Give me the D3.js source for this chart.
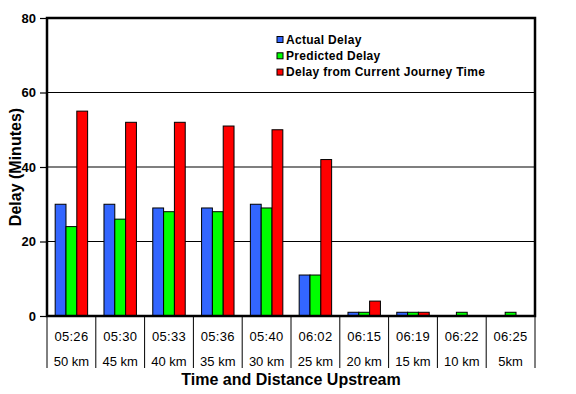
<!DOCTYPE html>
<html>
<head>
<meta charset="utf-8">
<script src="https://cdn.jsdelivr.net/npm/d3@7"></script>
<style>
  body { margin: 0; background: #fff; }
  text { font-family: "Liberation Sans", Arial, sans-serif; fill: #000; }
</style>
</head>
<body>
<script>
// chart data
const times = ["05:26", "05:30", "05:33", "05:36", "05:40", "06:02", "06:15", "06:19", "06:22", "06:25"];
const distances = ["50 km", "45 km", "40 km", "35 km", "30 km", "25 km", "20 km", "15 km", "10 km", "5km"];
const actualDelay = [30, 30, 29, 29, 30, 11, 1, 1, 0, 0];
const predictedDelay = [24, 26, 28, 28, 29, 11, 1, 1, 1, 1];
const journeyDelay = [55, 52, 52, 51, 50, 42, 4, 1, 0, 0];
const seriesNames = ["Actual Delay", "Predicted Delay", "Delay from Current Journey Time"];
const seriesColors = ["#3366ff", "#00ff00", "#ff0000"];
const yTicks = [0, 20, 40, 60, 80];

const width = 576, height = 394;
const m = {left: 47, right: 41, top: 18, bottom: 78};

const svg = d3.select("body").append("svg")
  .attr("width", width)
  .attr("height", height);

const x = d3.scaleBand()
  .domain(times)
  .range([m.left, width - m.right]);

const y = d3.scaleLinear()
  .domain([0, 80])
  .range([height - m.bottom, m.top]);

const inner = d3.scaleBand()
  .domain([0, 1, 2])
  .range([0, x.bandwidth() * 0.665])
  .padding(0);
const groupOffset = (x.bandwidth() - x.bandwidth() * 0.665) / 2;

// gridlines
svg.append("g")
  .selectAll("line")
  .data(yTicks.slice(1, 4))
  .enter().append("line")
  .attr("x1", m.left).attr("x2", width - m.right)
  .attr("y1", d => y(d)).attr("y2", d => y(d))
  .attr("stroke", "#000").attr("stroke-width", 1.2);

// bars
const rows = times.map((t, i) => ({t, vals: [actualDelay[i], predictedDelay[i], journeyDelay[i]]}));
const groups = svg.append("g").selectAll("g")
  .data(rows)
  .enter().append("g")
  .attr("transform", d => "translate(" + (x(d.t) + groupOffset) + ",0)");

groups.selectAll("rect")
  .data(d => d.vals.map((v, k) => ({v, k})).filter(e => e.v > 0))
  .enter().append("rect")
  .attr("x", e => inner(e.k))
  .attr("y", e => y(e.v))
  .attr("width", inner.bandwidth())
  .attr("height", e => y(0) - y(e.v))
  .attr("fill", e => seriesColors[e.k])
  .attr("stroke", "#000")
  .attr("stroke-width", 1);

// frame
svg.append("rect")
  .attr("x", m.left).attr("y", m.top)
  .attr("width", width - m.left - m.right)
  .attr("height", height - m.top - m.bottom)
  .attr("fill", "none")
  .attr("stroke", "#000")
  .attr("stroke-width", 2.5);

// y axis
const yAxis = d3.axisLeft(y).tickValues(yTicks).tickSize(7).tickPadding(4);
const ya = svg.append("g")
  .attr("transform", "translate(" + m.left + ",0)")
  .call(yAxis);
ya.select(".domain").remove();
ya.selectAll(".tick line").attr("stroke", "#000").attr("stroke-width", 1.2);
ya.selectAll(".tick text")
  .style("font-size", "13px")
  .style("font-weight", "bold");

// category table below plot
const tableTop = y(0), tableBottom = 368;
svg.append("g").selectAll("line")
  .data(times.concat(["end"]))
  .enter().append("line")
  .attr("x1", (d, i) => i < times.length ? x(d) : x(times[times.length - 1]) + x.bandwidth())
  .attr("x2", (d, i) => i < times.length ? x(d) : x(times[times.length - 1]) + x.bandwidth())
  .attr("y1", tableTop).attr("y2", tableBottom)
  .attr("stroke", "#000").attr("stroke-width", 1);

svg.append("g").selectAll("text")
  .data(times)
  .enter().append("text")
  .attr("x", d => x(d) + x.bandwidth() / 2)
  .attr("y", 341)
  .attr("text-anchor", "middle")
  .style("font-size", "13px")
  .style("letter-spacing", "0.3px")
  .text(d => d);

svg.append("g").selectAll("text")
  .data(distances)
  .enter().append("text")
  .attr("x", (d, i) => x(times[i]) + x.bandwidth() / 2)
  .attr("y", 366)
  .attr("text-anchor", "middle")
  .style("font-size", "13px")
  .text(d => d);

// axis titles
svg.append("text")
  .attr("x", (m.left + width - m.right) / 2)
  .attr("y", 385)
  .attr("text-anchor", "middle")
  .style("font-size", "16px")
  .style("font-weight", "bold")
  .text("Time and Distance Upstream");

svg.append("text")
  .attr("transform", "translate(21," + ((m.top + height - m.bottom) / 2) + ") rotate(-90)")
  .attr("text-anchor", "middle")
  .style("font-size", "16px")
  .style("font-weight", "bold")
  .text("Delay (Minutes)");

// legend
const legend = svg.append("g").selectAll("g")
  .data(seriesNames)
  .enter().append("g")
  .attr("transform", (d, i) => "translate(277," + (36.5 + i * 16.3) + ")");
legend.append("rect")
  .attr("width", 6).attr("height", 6)
  .attr("fill", (d, i) => seriesColors[i])
  .attr("stroke", "#000").attr("stroke-width", 1);
legend.append("text")
  .attr("x", 9).attr("y", 7)
  .style("font-size", "12px")
  .style("font-weight", "bold")
  .style("letter-spacing", "0.3px")
  .text(d => d);
</script>
</body>
</html>
